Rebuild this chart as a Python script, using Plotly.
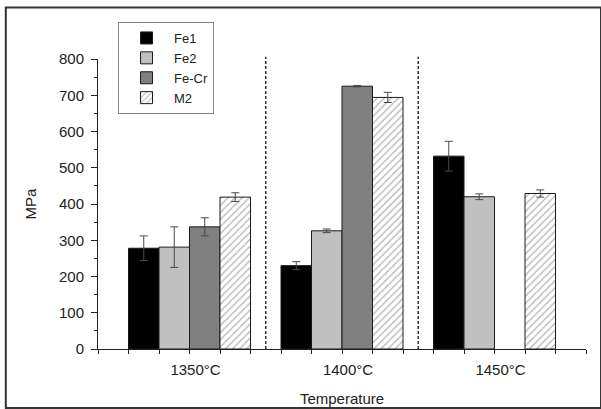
import plotly.graph_objects as go

# ---- data ----
temperatures = ["1350°C", "1400°C", "1450°C"]
series_names = ["Fe1", "Fe2", "Fe-Cr", "M2"]
fe1 = [278, 230, 532]
fe1_err = [34, 11, 41]
fe2 = [281, 326, 420]
fe2_err = [56, 5, 8]
fecr = [337, 725, None]
fecr_err = [25, 2, None]
m2 = [419, 694, 429]
m2_err = [12, 14, 10]
y_tick_vals = [0, 100, 200, 300, 400, 500, 600, 700, 800]

values = [fe1, fe2, fecr, m2]
errors = [fe1_err, fe2_err, fecr_err, m2_err]
fills = ["#000000", "#c0c0c0", "#808080", "#ffffff"]

FONT = "Liberation Sans, Arial, sans-serif"
TXT = "#222222"

xpos = list(range(len(temperatures)))
n = len(series_names)
bar_w = 0.2

fig = go.Figure()
for i, name in enumerate(series_names):
    pattern = dict(shape="/", fgcolor="#666666", bgcolor="#ffffff", size=5, solidity=0.25) if name == "M2" else None
    marker = dict(color=fills[i], line=dict(color="#1a1a1a", width=1))
    if pattern:
        marker["pattern"] = pattern
    fig.add_trace(go.Bar(
        name=name, x=xpos, y=values[i],
        marker=marker,
        error_y=dict(type="data", array=errors[i], visible=True,
                     color="#4a4a4a", thickness=1, width=4),
    ))

# bar-edge tick positions derived from group layout
edges = []
for g in xpos:
    for k in range(n + 1):
        edges.append(g - n * bar_w / 2 + k * bar_w)
x_range = [-0.6, len(temperatures) - 0.4]
minor_vals = [v for v in edges] + x_range

# dashed separators between groups
for g in xpos[:-1]:
    fig.add_shape(type="line", xref="x", yref="paper", x0=g + 0.5, x1=g + 0.5,
                  y0=0, y1=1.008, line=dict(color="#333333", width=1.5, dash="3px,2px"))

# outer frame
fig.add_shape(type="rect", xref="paper", yref="paper",
              x0=(6 - 98) / 487, x1=(600 - 98) / 487,
              y0=(349 - 408) / 290, y1=(349 - 7.5) / 290,
              line=dict(color="#333333", width=2), layer="below")

fig.update_layout(
    width=601, height=409,
    margin=dict(l=98, r=15, t=59, b=60, autoexpand=False),
    paper_bgcolor="white", plot_bgcolor="white",
    barmode="group", bargap=0.2, bargroupgap=0,
    font=dict(family=FONT, size=15, color=TXT),
    showlegend=True,
    legend=dict(x=(118 - 98) / 487, y=(349 - 22) / 290, xanchor="left", yanchor="top",
                bgcolor="white", bordercolor="#888888", borderwidth=1,
                font=dict(family=FONT, size=13, color=TXT),
                itemwidth=45, tracegroupgap=0),
    xaxis=dict(
        range=x_range, tickmode="array", tickvals=xpos, ticktext=temperatures,
        automargin=False,
        showline=True, linecolor="#222222", linewidth=1, zeroline=False, showgrid=False,
        ticks="outside", ticklen=4, tickcolor="#222222", tickwidth=1,
        ticklabelstandoff=3, ticklabelshift=6,
        minor=dict(tickmode="array", tickvals=minor_vals, ticks="outside", ticklen=4,
                   tickcolor="#222222", tickwidth=1, showgrid=False),
        title=dict(text="Temperature", standoff=16, font=dict(size=15)),
        tickfont=dict(size=15),
    ),
    yaxis=dict(
        range=[0, 800], tickmode="array", tickvals=y_tick_vals,
        automargin=False,
        showline=True, linecolor="#222222", linewidth=1, zeroline=False, showgrid=False,
        ticks="outside", ticklen=6, tickcolor="#222222", tickwidth=1,
        ticklabelstandoff=4,
        minor=dict(dtick=50, ticks="outside", ticklen=3, tickcolor="#222222", showgrid=False),
        title=dict(text="MPa", standoff=18, font=dict(size=15)),
        tickfont=dict(size=15),
    ),
)

fig.write_html("out.html")
